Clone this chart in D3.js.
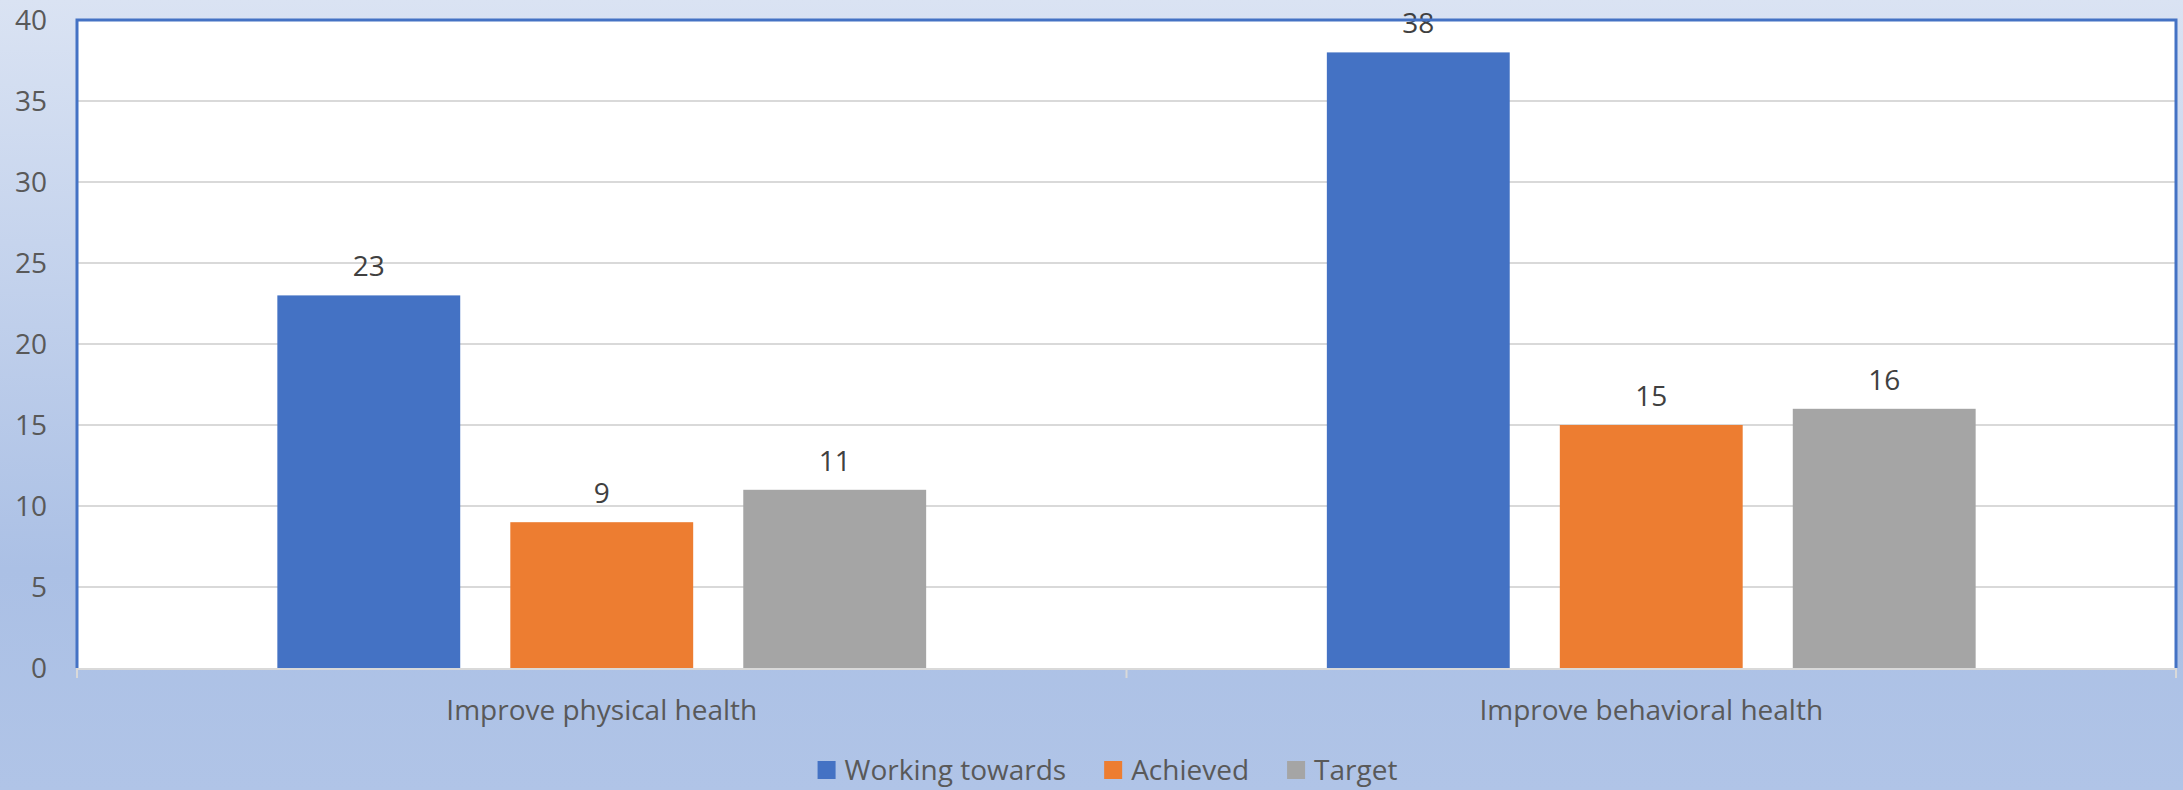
<!DOCTYPE html>
<html>
<head>
<meta charset="utf-8">
<script src="https://cdn.jsdelivr.net/npm/d3@7"></script>
<style>
  body { margin: 0; }
  svg { display: block; }
</style>
</head>
<body>
<div class="chart"></div>
<script>
// chart data
const categories = ['Improve physical health', 'Improve behavioral health'];
const seriesNames = ['Working towards', 'Achieved', 'Target'];
const workingTowards = [23, 38];
const achieved = [9, 15];
const target = [11, 16];
const yTicks = [0, 5, 10, 15, 20, 25, 30, 35, 40];

const colors = ['#4472c4', '#ed7d31', '#a5a5a5'];
const font = "'Open Sans', 'Noto Sans', sans-serif";

const width = 2183;
const height = 790;
const margin = {top: 20, right: 7, bottom: 122, left: 77};

const svg = d3.select('.chart')
    .append('svg')
    .attr('width', width)
    .attr('height', height);

// background gradient
const grad = svg.append('defs').append('linearGradient')
    .attr('id', 'bg')
    .attr('x1', 0).attr('y1', 0).attr('x2', 0).attr('y2', 1);
grad.append('stop').attr('offset', '0%').attr('stop-color', '#dae3f3');
grad.append('stop').attr('offset', '72%').attr('stop-color', '#abc0e5');
grad.append('stop').attr('offset', '100%').attr('stop-color', '#b0c4e7');

svg.append('rect')
    .attr('width', width)
    .attr('height', height)
    .attr('fill', 'url(#bg)');

const x0 = d3.scaleBand()
    .domain(categories)
    .range([margin.left, width - margin.right])
    .paddingInner(0)
    .paddingOuter(0);

const x1 = d3.scaleBand()
    .domain(seriesNames)
    .range([0, x0.bandwidth()])
    .paddingInner(0.215)
    .paddingOuter(0.86);

const y = d3.scaleLinear()
    .domain([0, 40])
    .range([height - margin.bottom, margin.top]);

// plot area
svg.append('rect')
    .attr('x', margin.left)
    .attr('y', margin.top)
    .attr('width', width - margin.left - margin.right)
    .attr('height', y(0) - margin.top)
    .attr('fill', 'white');

// gridlines
svg.selectAll('line.grid')
    .data(yTicks.filter(d => d > 0 && d < 40))
    .enter()
    .append('line')
    .attr('class', 'grid')
    .attr('x1', margin.left)
    .attr('x2', width - margin.right)
    .attr('y1', d => y(d))
    .attr('y2', d => y(d))
    .attr('stroke', '#d9d9d9')
    .attr('stroke-width', 2);

// bars
const rows = categories.map((c, i) => ({
    category: c,
    values: [workingTowards[i], achieved[i], target[i]]
}));

const groups = svg.selectAll('g.group')
    .data(rows)
    .enter()
    .append('g')
    .attr('transform', d => `translate(${x0(d.category)},0)`);

groups.selectAll('rect')
    .data(d => d.values.map((v, j) => ({name: seriesNames[j], value: v, color: colors[j]})))
    .enter()
    .append('rect')
    .attr('x', d => x1(d.name))
    .attr('y', d => y(d.value))
    .attr('width', x1.bandwidth())
    .attr('height', d => y(0) - y(d.value))
    .attr('fill', d => d.color);

// value labels
groups.selectAll('text')
    .data(d => d.values.map((v, j) => ({name: seriesNames[j], value: v})))
    .enter()
    .append('text')
    .text(d => d.value)
    .attr('x', d => x1(d.name) + x1.bandwidth() / 2)
    .attr('y', d => y(d.value) - 19)
    .attr('text-anchor', 'middle')
    .attr('font-family', font)
    .attr('font-size', 28)
    .attr('fill', '#404040');

// x axis line and ticks
svg.append('line')
    .attr('x1', margin.left)
    .attr('x2', width - margin.right)
    .attr('y1', y(0) + 1)
    .attr('y2', y(0) + 1)
    .attr('stroke', '#d9d9d9')
    .attr('stroke-width', 2);

const tickXs = categories.map(c => x0(c)).concat([width - margin.right]);
svg.selectAll('line.xtick')
    .data(tickXs)
    .enter()
    .append('line')
    .attr('x1', d => d)
    .attr('x2', d => d)
    .attr('y1', y(0))
    .attr('y2', y(0) + 10)
    .attr('stroke', '#d9d9d9')
    .attr('stroke-width', 2);

// plot border (left, top, right)
svg.append('path')
    .attr('d', `M${margin.left},${y(0)}V${margin.top}H${width - margin.right}V${y(0)}`)
    .attr('fill', 'none')
    .attr('stroke', '#4472c4')
    .attr('stroke-width', 3);

// y tick labels
svg.selectAll('text.ytick')
    .data(yTicks)
    .enter()
    .append('text')
    .attr('class', 'ytick')
    .text(d => d)
    .attr('x', 47)
    .attr('y', d => y(d))
    .attr('dy', '0.35em')
    .attr('text-anchor', 'end')
    .attr('font-family', font)
    .attr('font-size', 28)
    .attr('fill', '#595959');

// category labels
svg.selectAll('text.cat')
    .data(categories)
    .enter()
    .append('text')
    .attr('class', 'cat')
    .text(d => d)
    .attr('x', d => x0(d) + x0.bandwidth() / 2)
    .attr('y', 720)
    .attr('text-anchor', 'middle')
    .attr('font-family', font)
    .attr('font-size', 28)
    .attr('fill', '#595959');

// legend
const legend = svg.append('g');
let lx = 0;
seriesNames.forEach((name, i) => {
    const item = legend.append('g').attr('transform', `translate(${lx},0)`);
    item.append('rect')
        .attr('x', 0)
        .attr('y', -19)
        .attr('width', 18)
        .attr('height', 18)
        .attr('fill', colors[i]);
    const t = item.append('text')
        .text(name)
        .attr('x', 27)
        .attr('y', 0)
        .attr('font-family', font)
        .attr('font-size', 28)
        .attr('fill', '#595959');
    lx += 27 + t.node().getComputedTextLength() + 38;
});
const legendWidth = lx - 38;
legend.attr('transform', `translate(${(width - legendWidth) / 2 + 16},780)`);
</script>
</body>
</html>
